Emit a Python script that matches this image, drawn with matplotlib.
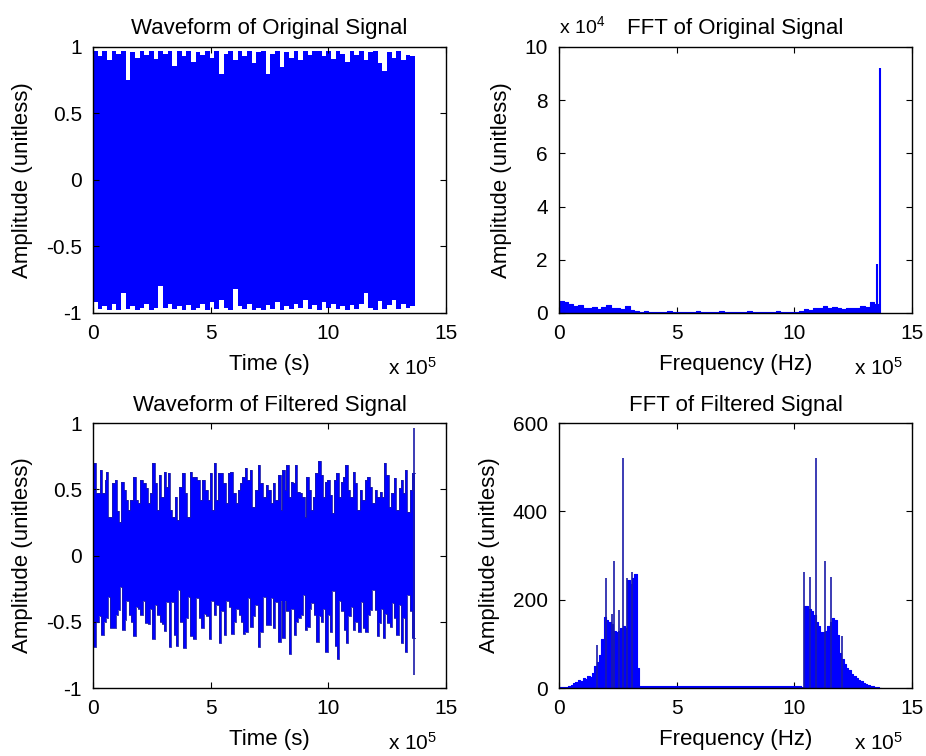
import numpy as np
import matplotlib
matplotlib.use("Agg")
import matplotlib.pyplot as plt

plt.rcParams['font.family'] = ['Liberation Sans', 'DejaVu Sans']
plt.rcParams['mathtext.default'] = 'regular'
plt.rcParams['axes.unicode_minus'] = False

BLUE = '#0000ff'
T_END = 13.68  # signal length, x 10^5 samples

# ---- original waveform: upper / lower envelope (x 10^5, step ~0.2)
orig_upper = [0.97, 0.93, 0.97, 0.90, 0.97, 0.95, 0.97, 0.75, 0.96, 0.92,
              0.97, 0.94, 0.97, 0.91, 0.97, 0.95, 0.97, 0.86, 0.97, 0.93,
              0.97, 0.89, 0.96, 0.94, 0.97, 0.92, 0.97, 0.80, 0.95, 0.97,
              0.90, 0.97, 0.93, 0.97, 0.88, 0.96, 0.97, 0.80, 0.95, 0.97,
              0.85, 0.96, 0.92, 0.97, 0.90, 0.97, 0.94, 0.97, 0.97, 0.93,
              0.97, 0.91, 0.97, 0.95, 0.89, 0.97, 0.94, 0.97, 0.90, 0.96,
              0.97, 0.88, 0.82, 0.96, 0.92, 0.97, 0.90, 0.94, 0.93]
orig_lower = [-0.92, -0.97, -0.95, -0.98, -0.93, -0.98, -0.85, -0.97, -0.95, -0.98,
              -0.96, -0.93, -0.98, -0.96, -0.80, -0.96, -0.93, -0.97, -0.95, -0.98,
              -0.94, -0.98, -0.96, -0.93, -0.98, -0.92, -0.97, -0.90, -0.96, -0.98,
              -0.82, -0.95, -0.97, -0.93, -0.98, -0.96, -0.98, -0.94, -0.97, -0.92,
              -0.98, -0.95, -0.97, -0.93, -0.96, -0.90, -0.97, -0.94, -0.98, -0.92,
              -0.96, -0.93, -0.97, -0.95, -0.98, -0.94, -0.97, -0.93, -0.85, -0.96,
              -0.98, -0.91, -0.97, -0.94, -0.90, -0.97, -0.93, -0.96, -0.95]

# ---- FFT of original (x 10^4), step 0.2 from 0
orig_fft = [0.45, 0.40, 0.33, 0.25, 0.30, 0.20, 0.18, 0.21, 0.15, 0.22,
            0.30, 0.20, 0.17, 0.15, 0.26, 0.10, 0.06,
            0.05, 0.06, 0.05, 0.04, 0.05, 0.05, 0.06, 0.05, 0.04, 0.05,
            0.05, 0.05, 0.06, 0.05, 0.04, 0.05, 0.05, 0.06, 0.05, 0.05,
            0.04, 0.05, 0.05, 0.06, 0.05, 0.05, 0.04, 0.05, 0.05, 0.06,
            0.05, 0.05, 0.04, 0.05, 0.06,
            0.15, 0.12, 0.18, 0.20, 0.25, 0.18, 0.22, 0.20, 0.15, 0.20,
            0.18, 0.20, 0.25, 0.22, 0.40, 0.35]
orig_peak_f = [13.52, 13.62]
orig_peak_mag = [1.85, 9.2]

# ---- filtered waveform: upper edge (time, value) read along the top
filt_up_t = [0.00, 0.11, 0.31, 0.40, 0.50, 0.57, 0.64, 0.82, 0.92, 1.02,
             1.10, 1.20, 1.30, 1.39, 1.49, 1.59, 1.70, 1.81, 1.91, 2.01,
             2.12, 2.24, 2.34, 2.44, 2.52, 2.62, 2.72, 2.80, 2.90, 3.00,
             3.12, 3.20, 3.29, 3.37, 3.47, 3.57, 3.65, 3.80, 3.90, 3.99,
             4.11, 4.22, 4.32, 4.42, 4.53, 4.65, 4.75, 4.89, 4.99, 5.07,
             5.13, 5.24, 5.31, 5.41, 5.52, 5.64, 5.74, 5.84, 5.95, 6.06,
             6.16, 6.26, 6.35, 6.44, 6.54, 6.66, 6.77, 6.87, 7.01, 7.11,
             7.22, 7.34, 7.44, 7.55, 7.65, 7.75, 7.86, 7.98, 8.03, 8.15,
             8.22, 8.32, 8.40, 8.50, 8.57, 8.68, 8.78, 8.88, 9.00, 9.07,
             9.17, 9.25, 9.35, 9.45, 9.56, 9.67, 9.77, 9.87, 9.96, 10.06,
             10.16, 10.24, 10.34, 10.44, 10.52, 10.62, 10.72, 10.84, 10.92, 11.05,
             11.15, 11.23, 11.33, 11.43, 11.54, 11.66, 11.76, 11.86, 11.97, 12.08,
             12.18, 12.28, 12.37, 12.47, 12.56, 12.68, 12.79, 12.89, 12.99, 13.07,
             13.17, 13.24, 13.36, 13.46, 13.56]
filt_up_val = [0.70, 0.47, 0.645, 0.47, 0.57, 0.63, 0.29, 0.545, 0.57, 0.34,
               0.255, 0.557, 0.494, 0.419, 0.343, 0.419, 0.595, 0.419, 0.394, 0.57,
               0.545, 0.507, 0.394, 0.469, 0.696, 0.545, 0.343, 0.608, 0.444, 0.633,
               0.519, 0.62, 0.343, 0.293, 0.444, 0.268, 0.519, 0.62, 0.469, 0.293,
               0.633, 0.595, 0.595, 0.57, 0.419, 0.57, 0.494, 0.419, 0.62, 0.343,
               0.696, 0.419, 0.62, 0.62, 0.545, 0.394, 0.62, 0.633, 0.469, 0.394,
               0.494, 0.545, 0.595, 0.658, 0.57, 0.645, 0.369, 0.494, 0.683, 0.545,
               0.444, 0.532, 0.494, 0.394, 0.545, 0.419, 0.608, 0.343, 0.645, 0.494,
               0.683, 0.444, 0.557, 0.545, 0.683, 0.482, 0.469, 0.444, 0.293, 0.595,
               0.494, 0.343, 0.444, 0.62, 0.71, 0.608, 0.444, 0.557, 0.57, 0.457,
               0.318, 0.57, 0.62, 0.444, 0.557, 0.595, 0.683, 0.494, 0.444, 0.633,
               0.545, 0.343, 0.494, 0.419, 0.57, 0.595, 0.519, 0.394, 0.494, 0.444,
               0.482, 0.444, 0.696, 0.608, 0.369, 0.469, 0.582, 0.343, 0.507, 0.57,
               0.469, 0.645, 0.331, 0.494, 0.62]
# lower edge
filt_lo_t = [0.00, 0.14, 0.25, 0.35, 0.45, 0.54, 0.64, 0.74, 0.85, 0.96,
             1.06, 1.13, 1.25, 1.35, 1.42, 1.53, 1.63, 1.70, 1.81, 1.91,
             2.01, 2.12, 2.22, 2.34, 2.41, 2.52, 2.62, 2.72, 2.83, 2.93,
             3.00, 3.12, 3.23, 3.33, 3.43, 3.54, 3.61, 3.71, 3.82, 3.94,
             4.04, 4.14, 4.25, 4.39, 4.50, 4.60, 4.70, 4.82, 4.93, 5.03,
             5.13, 5.24, 5.35, 5.45, 5.55, 5.67, 5.78, 5.88, 5.98, 6.09,
             6.19, 6.30, 6.37, 6.47, 6.59, 6.69, 6.80, 6.90, 7.00, 7.08,
             7.22, 7.34, 7.44, 7.55, 7.65, 7.75, 7.86, 7.97, 8.03, 8.15,
             8.22, 8.32, 8.43, 8.54, 8.64, 8.71, 8.83, 8.92, 9.00, 9.11,
             9.21, 9.28, 9.39, 9.49, 9.59, 9.68, 9.77, 9.87, 9.99, 10.06,
             10.16, 10.27, 10.37, 10.44, 10.55, 10.67, 10.77, 10.84, 10.95, 11.05,
             11.15, 11.26, 11.37, 11.47, 11.57, 11.69, 11.77, 11.86, 11.97, 12.05,
             12.14, 12.25, 12.32, 12.42, 12.51, 12.61, 12.71, 12.79, 12.89, 12.99,
             13.07, 13.17, 13.27, 13.36, 13.46, 13.56]
filt_lo_val = [-0.69, -0.50, -0.46, -0.60, -0.50, -0.47, -0.31, -0.55, -0.55, -0.45,
               -0.41, -0.235, -0.56, -0.49, -0.34, -0.45, -0.50, -0.61, -0.39, -0.40,
               -0.45, -0.34, -0.51, -0.52, -0.40, -0.63, -0.37, -0.45, -0.50, -0.52,
               -0.57, -0.35, -0.69, -0.35, -0.60, -0.68, -0.26, -0.50, -0.70, -0.47,
               -0.31, -0.61, -0.63, -0.32, -0.47, -0.55, -0.44, -0.46, -0.63, -0.34,
               -0.45, -0.37, -0.66, -0.42, -0.60, -0.34, -0.39, -0.59, -0.50, -0.40,
               -0.45, -0.50, -0.59, -0.575, -0.32, -0.54, -0.46, -0.37, -0.69, -0.575,
               -0.31, -0.525, -0.525, -0.32, -0.55, -0.35, -0.65, -0.34, -0.625, -0.34,
               -0.42, -0.74, -0.40, -0.60, -0.50, -0.47, -0.45, -0.30, -0.56, -0.54,
               -0.40, -0.36, -0.45, -0.65, -0.46, -0.50, -0.40, -0.73, -0.45, -0.575,
               -0.27, -0.68, -0.78, -0.34, -0.42, -0.56, -0.66, -0.46, -0.39, -0.56,
               -0.50, -0.575, -0.35, -0.55, -0.575, -0.45, -0.41, -0.26, -0.41, -0.61,
               -0.51, -0.40, -0.625, -0.44, -0.51, -0.54, -0.36, -0.47, -0.60, -0.37,
               -0.66, -0.47, -0.73, -0.30, -0.42, -0.625]
filt_end_t = 13.66
filt_end_top = 0.96
filt_end_bot = -0.90

# ---- FFT of filtered signal, step 0.1
filt_fft_left = [3, 3, 3, 3, 4, 8, 12, 14, 18, 16, 22, 20, 28, 26, 35, 50, 60, 75,
                 110, 160, 155, 150, 145, 130, 128, 130, 135, 140, 135, 245, 235,
                 250, 258, 45, 3]
filt_fft_right = [3, 186, 185, 180, 175, 165, 150, 140, 128, 128, 130, 140, 150, 158,
                  155, 120, 80, 65, 55, 45, 40, 32, 28, 22, 18, 16, 12, 10, 8, 5, 4,
                  3, 2, 1]
filt_fft_left_f0 = 0.0
filt_fft_right_f0 = 10.3
filt_peak_f = [1.60, 2.00, 2.24, 2.34, 2.56, 2.73, 2.90, 3.12,
               10.41, 10.67, 10.91, 11.30, 11.55, 12.01]
filt_peak_mag = [97, 250, 167, 287, 177, 520, 250, 262,
                 262, 252, 520, 287, 251, 118]
filt_mid_f = [3.4, 10.3]
filt_mid_mag = [1.5, 1.5]


def step_edges(x0, x1, vals):
    x = np.linspace(x0, x1, len(vals) + 1)
    y = np.append(vals, vals[-1])
    return x, y


def step_pairs(t, vals, t_end):
    x = np.append(t, t_end)
    y = np.append(vals, vals[-1])
    return x, y


def style(ax, title, xlabel, ylim, yticks, ylabels):
    ax.set_xlim(0, 15)
    ax.set_xticks([0, 5, 10, 15])
    ax.set_ylim(*ylim)
    ax.set_yticks(yticks)
    ax.set_yticklabels(ylabels)
    ax.tick_params(direction='in', top=True, right=True, length=4, width=0.8,
                   labelsize=15, pad=8)
    for s in ax.spines.values():
        s.set_linewidth(1.0)
    ax.set_title(title, fontsize=16, pad=9)
    ax.set_xlabel(xlabel, fontsize=16, labelpad=8)
    ax.set_ylabel('Amplitude (unitless)', fontsize=16, labelpad=9)
    ax.text(0.975, -0.233, 'x 10$^5$', transform=ax.transAxes, ha='right',
            va='baseline', fontsize=15)


fig = plt.figure(figsize=(9.26, 7.56), dpi=100)
ax1 = fig.add_axes([0.1004, 0.5860, 0.3812, 0.3519])
ax2 = fig.add_axes([0.6037, 0.5860, 0.3812, 0.3519])
ax3 = fig.add_axes([0.1004, 0.0899, 0.3812, 0.3505])
ax4 = fig.add_axes([0.6037, 0.0899, 0.3812, 0.3505])

# original waveform
x, up = step_edges(0, T_END, orig_upper)
_, lo = step_edges(0, T_END, orig_lower)
ax1.fill_between(x, lo, up, step='post', color=BLUE, lw=0)
style(ax1, 'Waveform of Original Signal', 'Time (s)', (-1, 1),
      [-1, -0.5, 0, 0.5, 1], ['-1', '-0.5', '0', '0.5', '1'])

# FFT original
x, y = step_edges(0, 0.2 * len(orig_fft), orig_fft)
ax2.fill_between(x, 0, y, step='post', color=BLUE, lw=0)
ax2.step(x, y, where='post', color=BLUE, lw=0.8)
ax2.vlines(orig_peak_f, 0, orig_peak_mag, color=BLUE, lw=1.5)
style(ax2, 'FFT of Original Signal', 'Frequency (Hz)', (0, 10),
      [0, 2, 4, 6, 8, 10], ['0', '2', '4', '6', '8', '10'])
ax2.text(0.0, 1.052, 'x 10$^4$', transform=ax2.transAxes, ha='left',
         va='baseline', fontsize=14)

# filtered waveform
x, y = step_pairs(filt_up_t, filt_up_val, T_END)
ax3.fill_between(x, 0, y, step='post', color=BLUE, lw=0)
ax3.step(x, y, where='post', color='#1a1aa8', lw=0.6)
x, y = step_pairs(filt_lo_t, filt_lo_val, T_END)
ax3.fill_between(x, y, 0, step='post', color=BLUE, lw=0)
ax3.step(x, y, where='post', color='#1a1aa8', lw=0.6)
ax3.vlines([filt_end_t], [filt_end_bot], [filt_end_top], color='#1a1aa8', lw=1.2)
style(ax3, 'Waveform of Filtered Signal', 'Time (s)', (-1, 1),
      [-1, -0.5, 0, 0.5, 1], ['-1', '-0.5', '0', '0.5', '1'])

# FFT filtered
for f0, vals in [(filt_fft_left_f0, filt_fft_left), (filt_fft_right_f0, filt_fft_right)]:
    x, y = step_edges(f0, f0 + 0.1 * len(vals), vals)
    ax4.fill_between(x, 0, y, step='post', color=BLUE, lw=0)
    ax4.step(x, y, where='post', color=BLUE, lw=0.8)
ax4.plot(filt_mid_f, filt_mid_mag, color=BLUE, lw=1.5)
ax4.vlines(filt_peak_f, 0, filt_peak_mag, color='#1a1aa8', lw=1.2)
style(ax4, 'FFT of Filtered Signal', 'Frequency (Hz)', (0, 600),
      [0, 200, 400, 600], ['0', '200', '400', '600'])

fig.savefig('out.png', dpi=100)
